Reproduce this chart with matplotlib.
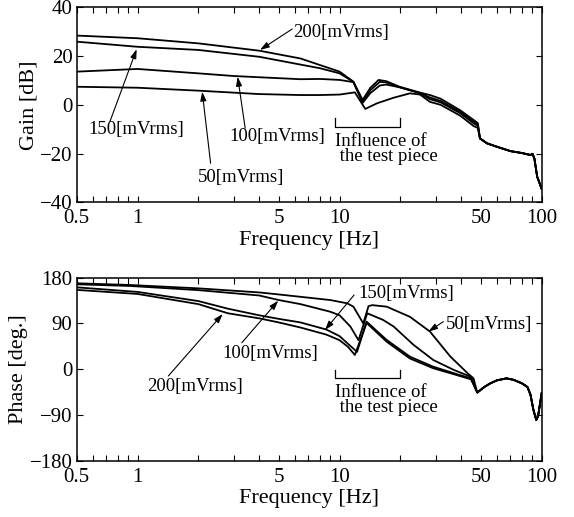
import numpy as np
import matplotlib.pyplot as plt
from matplotlib.ticker import FixedLocator, NullFormatter

plt.rcParams['font.family'] = ['Liberation Serif', 'DejaVu Serif']

# ---- gain [dB] vs frequency [Hz] ----
f_g200 = [0.5, 1, 2, 4, 6.4, 8, 10, 11.7, 13.0, 14.2, 15.6, 17, 19.8, 25, 28, 31.6, 39.6, 46, 48.3]
g200 = [28.4, 27.3, 25.2, 22.2, 19.0, 16.3, 13.6, 9.5, 2.0, 7.0, 10.2, 9.7, 7.4, 5.0, 4.0, 2.5, -2.3, -6.2, -7.5]

f_g150 = [0.5, 1, 2, 4, 6.4, 8, 10, 11.7, 13.0, 14.2, 15.8, 17, 19.8, 25, 28, 31.6, 39.6, 46, 48.3]
g150 = [25.9, 23.8, 22.5, 19.7, 16.5, 15.0, 12.9, 9.4, 1.3, 6.0, 9.4, 9.2, 7.2, 4.8, 3.0, 1.6, -3.0, -6.9, -8.0]

f_g100 = [0.5, 1, 2, 3, 4, 6.4, 8, 10, 11.7, 13.0, 14.2, 15.8, 17, 19.8, 25, 28, 31.6, 39.6, 46, 48.3]
g100 = [13.6, 14.7, 12.9, 11.8, 11.3, 10.5, 10.6, 10.2, 9.3, 0.8, 4.8, 7.9, 8.3, 7.2, 4.8, 2.3, 1.0, -3.5, -7.6, -8.6]

f_g50 = [0.5, 1, 2, 4, 6.4, 8, 10, 11.9, 13.4, 15.3, 18.5, 22.3, 25, 28, 31.6, 39.6, 46, 48.3]
g50 = [7.4, 7.0, 5.8, 4.4, 4.0, 4.0, 4.2, 5.1, -1.7, 0.6, 2.9, 4.7, 4.2, 1.2, 0.0, -4.5, -8.7, -9.5]

# above ~49 Hz the four gain curves lie on top of each other
f_gtail = [49.5, 53.6, 60, 70, 80, 88, 90, 92, 95, 100]
g_tail = [-13.8, -15.8, -17.2, -19.0, -19.8, -20.6, -20.1, -22.0, -29.5, -34.5]

# ---- phase [deg.] vs frequency [Hz] ----
f_p50 = [0.5, 0.92, 2, 4, 5, 9, 10.9, 11.7, 13.1, 13.9, 14.5, 17.1, 22.3, 28, 35.3, 43, 46]
p50 = [169, 165.6, 159, 151, 147, 136, 129.6, 123, 90, 124, 126, 123, 103, 74, 25, -8, -18]

f_p100 = [0.5, 0.92, 2, 4, 5, 6.4, 9, 10, 11.3, 12.4, 13.7, 16.4, 18.5, 23.2, 29.1, 36.8, 44.7]
p100 = [167, 163.7, 155.5, 145, 136, 128, 113, 106, 84, 57, 110, 97, 84, 48, 18, -1.6, -15]

f_p150 = [0.5, 1, 2, 2.8, 4, 5, 6.4, 8.6, 10, 11, 12.2, 13.6, 17.1, 22.3, 29, 36.8, 44.7]
p150 = [161, 152, 134, 119, 106, 99, 92, 78, 65, 50, 34, 93.5, 57.5, 24.6, 5, -8, -18]

f_p200 = [0.5, 1, 2, 2.8, 4, 5, 6.4, 8.6, 10, 11, 11.9, 13.6, 17.1, 22.3, 29, 36.8, 44.7]
p200 = [156, 148, 128, 110, 100, 92, 82, 68, 57, 44, 28, 91, 54, 21, 2, -10, -20]

f_ptail = [48, 52, 55.6, 60, 67, 72.7, 80, 85, 88, 91, 94, 96, 100]
p_tail = [-46, -35, -28, -22, -18, -21, -28, -35, -50, -80, -100, -92, -47]

xticks = [0.5, 1, 5, 10, 50, 100]
xticklabels = ['0.5', '1', '5', '10', '50', '100']
minor_xticks = [0.6, 0.7, 0.8, 0.9, 2, 3, 4, 6, 7, 8, 9, 20, 30, 40, 60, 70, 80, 90]

fig = plt.figure(figsize=(5.74, 5.17), dpi=100)
ax1 = fig.add_axes([0.1336, 0.6087, 0.8101, 0.3772])
ax2 = fig.add_axes([0.1336, 0.1089, 0.8101, 0.3540])


def setup(ax, ylim, yticks, ylabel):
    ax.set_xscale('log')
    ax.set_xlim(0.5, 100)
    ax.set_ylim(*ylim)
    ax.set_xticks(xticks)
    ax.set_xticklabels(xticklabels)
    ax.xaxis.set_minor_locator(FixedLocator(minor_xticks))
    ax.xaxis.set_minor_formatter(NullFormatter())
    ax.set_yticks(yticks)
    ax.tick_params(which='both', direction='in', top=True, right=True,
                   length=4, width=0.8, labelsize=15, pad=3)
    ax.tick_params(axis='x', which='major', pad=5)
    ax.set_xlabel('Frequency [Hz]', fontsize=16, labelpad=2)
    ax.set_ylabel(ylabel, fontsize=16, labelpad=1)
    for s in ax.spines.values():
        s.set_linewidth(1.1)


def arrow(ax, tail, tip):
    ax.annotate('', xy=tip, xytext=tail,
                arrowprops=dict(arrowstyle='-|>,head_length=0.55,head_width=0.18',
                                color='black', lw=0.8, shrinkA=0, shrinkB=0))


def bracket(ax, x0, x1, ytop, ybot):
    ax.plot([x0, x0, x1, x1], [ytop, ybot, ybot, ytop], color='black', lw=0.9)


lw = 1.3
# gain plot
for f, g in [(f_g200, g200), (f_g150, g150), (f_g100, g100), (f_g50, g50)]:
    ax1.plot(f + f_gtail, g + g_tail, color='black', lw=lw)
setup(ax1, (-40, 40), [-40, -20, 0, 20, 40], 'Gain [dB]')

fs = 13.5
ax1.text(5.88, 29.5, '200[mVrms]', fontsize=fs, ha='left', va='center')
arrow(ax1, (5.83, 31.1), (4.04, 22.5))
ax1.text(0.99, -10.3, '150[mVrms]', fontsize=fs, ha='center', va='center')
arrow(ax1, (0.73, -6.9), (0.99, 22.8))
ax1.text(4.93, -13.2, '100[mVrms]', fontsize=fs, ha='center', va='center')
arrow(ax1, (3.41, -9.6), (3.13, 11.5))
ax1.text(3.24, -30.0, '50[mVrms]', fontsize=fs, ha='center', va='center')
arrow(ax1, (2.30, -24.0), (2.09, 5.4))
bracket(ax1, 9.5, 20, -5.5, -9.0)
ax1.text(9.5, -18.2, 'Influence of\n the test piece', fontsize=fs, ha='left',
         va='center', linespacing=0.85)

# phase plot
for f, p in [(f_p50, p50), (f_p100, p100), (f_p150, p150), (f_p200, p200)]:
    ax2.plot(f + f_ptail, p + p_tail, color='black', lw=lw)
setup(ax2, (-180, 180), [-180, -90, 0, 90, 180], 'Phase [deg.]')

ax2.text(12.36, 149.3, '150[mVrms]', fontsize=fs, ha='left', va='center')
arrow(ax2, (11.8, 146), (8.46, 77))
ax2.text(33.4, 87, '50[mVrms]', fontsize=fs, ha='left', va='center')
arrow(ax2, (32.6, 93.5), (27.5, 74))
ax2.text(2.64, 31.3, '100[mVrms]', fontsize=fs, ha='left', va='center')
arrow(ax2, (3.28, 52), (4.97, 134.8))
ax2.text(1.11, -34.4, '200[mVrms]', fontsize=fs, ha='left', va='center')
arrow(ax2, (1.42, -13.4), (2.64, 108.6))
bracket(ax2, 9.5, 20, -1.6, -17.9)
ax2.text(9.5, -60.5, 'Influence of\n the test piece', fontsize=fs, ha='left',
         va='center', linespacing=0.85)

fig.savefig('out.png', dpi=100)
